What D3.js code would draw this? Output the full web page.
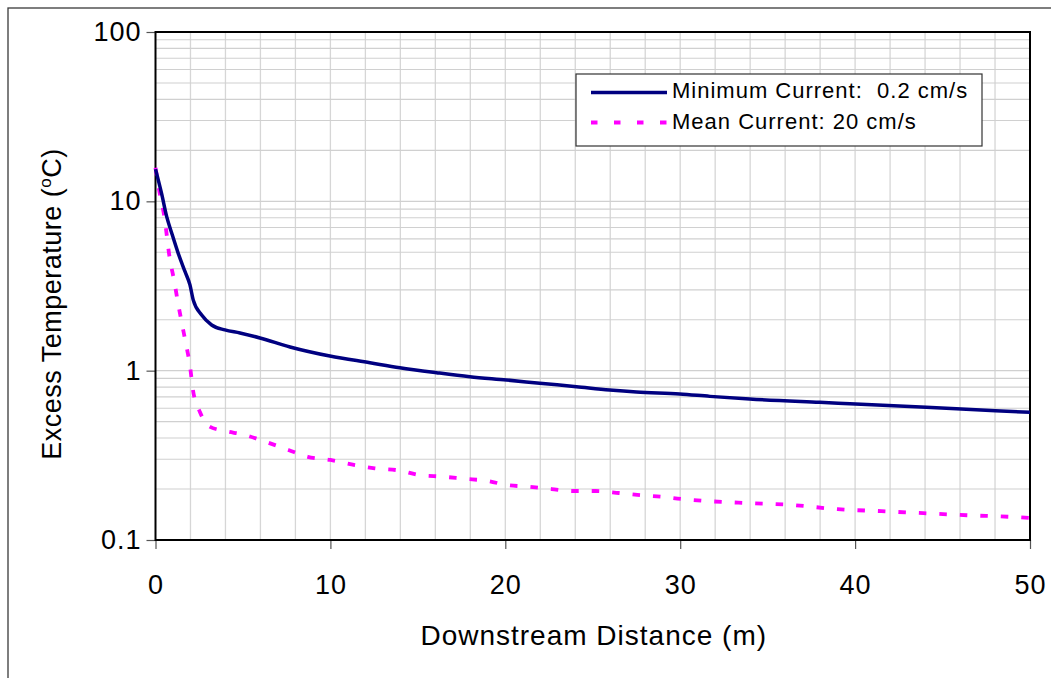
<!DOCTYPE html>
<html>
<head>
<meta charset="utf-8">
<script src="https://cdn.jsdelivr.net/npm/d3@7"></script>
<style>
  html, body { margin: 0; padding: 0; background: #fff; }
  svg { display: block; font-family: "Liberation Sans", Arial, sans-serif; }
  text { white-space: pre; }
</style>
</head>
<body>
<svg id="chart" width="1051" height="678"></svg>
<script>
// ---- data ----
const distMin = [0, 0.35, 0.64, 0.93, 1.3, 1.69, 1.97, 2.16, 2.64, 3.21, 3.97, 4.83, 5.97, 7.69, 9.97, 12.26, 13.97, 16.07, 17.97, 20.07, 21.97, 24.07, 25.97, 27.5, 29.97, 31.7, 33.97, 37.97, 40.03, 44.07, 48.03, 50];
const tempMin = [15.5, 11.1, 8.12, 6.48, 4.93, 3.84, 3.21, 2.61, 2.13, 1.86, 1.74, 1.67, 1.56, 1.38, 1.22, 1.114, 1.041, 0.973, 0.921, 0.881, 0.843, 0.804, 0.769, 0.748, 0.728, 0.705, 0.68, 0.65, 0.636, 0.608, 0.58, 0.568];

const distMean = [0, 0.26, 0.49, 0.83, 1.06, 1.29, 1.51, 1.74, 1.97, 2.14, 2.54, 3.06, 3.97, 5.0, 6.3, 7.6, 8.7, 10, 11.4, 12.54, 13.97, 15.06, 16.45, 17.63, 19.02, 20.1, 21.34, 22.64, 23.84, 25.17, 26.5, 27.55, 28.93, 30.07, 31.46, 34, 36.4, 39, 41.5, 43.9, 46.4, 48.9, 50];
const tempMean = [15.8, 10.9, 8.3, 4.5, 3.43, 2.5, 1.9, 1.44, 1.07, 0.77, 0.57, 0.47, 0.44, 0.42, 0.38, 0.34, 0.31, 0.297, 0.277, 0.265, 0.257, 0.242, 0.2365, 0.23, 0.223, 0.211, 0.2065, 0.2, 0.1947, 0.1947, 0.1895, 0.1845, 0.18, 0.1746, 0.17, 0.165, 0.161, 0.152, 0.148, 0.144, 0.14, 0.137, 0.135];

const xTicks = [0, 10, 20, 30, 40, 50];
const yTicks = [0.1, 1, 10, 100];
const yTickLabels = ["0.1", "1", "10", "100"];
const seriesNames = ["Minimum Current:  0.2 cm/s", "Mean Current: 20 cm/s"];

// ---- layout ----
const svg = d3.select("#chart");
const pL = 155.5, pR = 1030, pT = 32, pB = 540;

const x = d3.scaleLinear().domain([0, 50]).range([pL, pR]);
const y = d3.scaleLog().domain([0.1, 100]).range([pB, pT]);

// outer chart border
svg.append("rect").attr("x", 8).attr("y", 8).attr("width", 1100).attr("height", 700)
  .attr("fill", "#fff").attr("stroke", "#3a3a3a").attr("stroke-width", 1.3);

// grid
const gridV = d3.range(2, 50, 2);
svg.append("g").selectAll("line").data(gridV).join("line")
  .attr("x1", d => x(d)).attr("x2", d => x(d)).attr("y1", pT).attr("y2", pB)
  .attr("stroke", "#d6d6d6").attr("stroke-width", 1.3);

const gridH = [];
[0.1, 1, 10].forEach(k => { for (let m = 1; m <= 9; m++) gridH.push(m * k); });
svg.append("g").selectAll("line").data(gridH).join("line")
  .attr("x1", pL).attr("x2", pR).attr("y1", d => y(d)).attr("y2", d => y(d))
  .attr("stroke", "#d0d0d0").attr("stroke-width", 1.1);

// axes ticks
const yAxis = d3.axisLeft(y).tickValues(yTicks).tickSize(9).tickFormat((d, i) => yTickLabels[i]);
const gy = svg.append("g").attr("transform", `translate(${pL},0)`).call(yAxis);
gy.select(".domain").remove();
gy.selectAll(".tick line").attr("stroke", "#555").attr("stroke-width", 1.2);
gy.selectAll(".tick text").attr("font-size", 27).attr("fill", "#000").attr("letter-spacing", 1)
  .attr("font-family", "Liberation Sans, Arial, sans-serif").attr("x", -14);

const xAxis = d3.axisBottom(x).tickValues(xTicks).tickSize(9).tickFormat(d3.format("d"));
const gx = svg.append("g").attr("transform", `translate(0,${pB})`).call(xAxis);
gx.select(".domain").remove();
gx.selectAll(".tick line").attr("stroke", "#555").attr("stroke-width", 1.2);
gx.selectAll(".tick text").attr("font-size", 27).attr("fill", "#000").attr("letter-spacing", 1)
  .attr("font-family", "Liberation Sans, Arial, sans-serif").attr("y", 35);

// plot area border
svg.append("rect").attr("x", pL).attr("y", pT).attr("width", pR - pL).attr("height", pB - pT)
  .attr("fill", "none").attr("stroke", "#000").attr("stroke-width", 2);

// lines
const line = d3.line().x(d => x(d[0])).y(d => y(d[1])).curve(d3.curveMonotoneX);
const minData = distMin.map((d, i) => [d, tempMin[i]]);
const meanData = distMean.map((d, i) => [d, tempMean[i]]);

svg.append("path").datum(meanData).attr("d", line)
  .attr("fill", "none").attr("stroke", "#ff00ff").attr("stroke-width", 3.8)
  .attr("stroke-dasharray", "7.5,13");
svg.append("path").datum(minData).attr("d", line)
  .attr("fill", "none").attr("stroke", "#000080").attr("stroke-width", 3.5);

// axis titles
svg.append("text").attr("x", (pL + pR) / 2 + 1).attr("y", 645).attr("text-anchor", "middle")
  .attr("font-size", 28).attr("letter-spacing", 1).text("Downstream Distance (m)");

const yt = svg.append("text").attr("transform", "translate(61,304) rotate(-90)")
  .attr("text-anchor", "middle").attr("font-size", 27).attr("letter-spacing", 0.5);
yt.append("tspan").text("Excess Temperature (");
yt.append("tspan").attr("font-size", 17).attr("dy", -10).text("o");
yt.append("tspan").attr("dy", 10).text("C)");

// legend
const lg = svg.append("g");
lg.append("rect").attr("x", 576).attr("y", 74).attr("width", 406).attr("height", 72)
  .attr("fill", "#fff").attr("stroke", "#333").attr("stroke-width", 1.2);
lg.append("line").attr("x1", 591).attr("x2", 667).attr("y1", 92.5).attr("y2", 92.5)
  .attr("stroke", "#000080").attr("stroke-width", 3.5);
lg.append("line").attr("x1", 591).attr("x2", 667).attr("y1", 122.5).attr("y2", 122.5)
  .attr("stroke", "#ff00ff").attr("stroke-width", 3.8).attr("stroke-dasharray", "6.5,16.5");
lg.append("text").attr("x", 672).attr("y", 98).attr("font-size", 22).attr("letter-spacing", 1).text(seriesNames[0]);
lg.append("text").attr("x", 672).attr("y", 129).attr("font-size", 22).attr("letter-spacing", 1).text(seriesNames[1]);
</script>
</body>
</html>
